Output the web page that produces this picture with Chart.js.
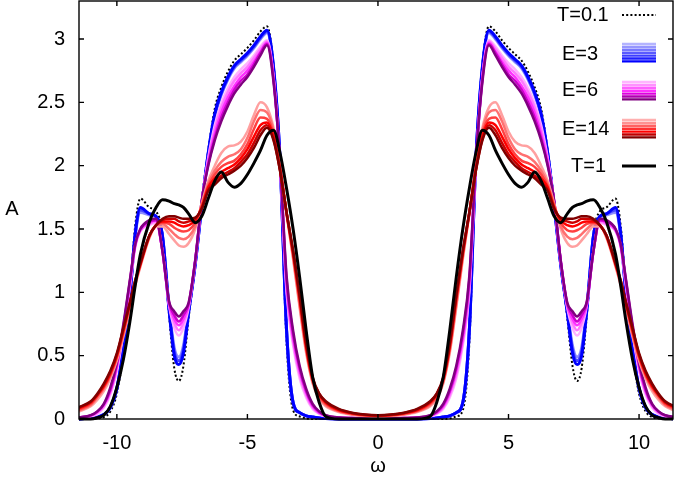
<!DOCTYPE html>
<html><head><meta charset="utf-8">
<script src="https://cdn.jsdelivr.net/npm/chart.js@4/dist/chart.umd.min.js"></script>
<style>html,body{margin:0;padding:0;background:#fff}#wrap{width:675px;height:478px;position:relative}</style>
</head><body><div id="wrap"><canvas id="c"></canvas></div>
<script>
// frequency grid (positive half; the spectra are symmetric in omega)
const omegaPos = [0,0.5,1,1.5,2,2.25,2.5,2.75,3,3.25,3.5,3.75,4,4.25,4.5,4.75,5,5.25,5.5,5.75,6,6.25,6.5,6.75,7,7.25,7.45,7.625,7.8,8,8.25,8.5,8.75,9.1,9.3,9.5,9.75,10,10.25,10.5,10.75,11,11.5];
const xTicks = [-10,-5,0,5,10];
const yTicks = [0,0.5,1,1.5,2,2.5,3];
const legendLabels = ['T=0.1','E=3','E=6','E=14','T=1'];

// T=0.1 (dotted)
const tLow = [0,0,0,0,0,0,0,0.005,0.02,0.07,0.6,2.05,2.8,3.1,3.06,2.99,2.93,2.88,2.83,2.74,2.62,2.45,2.12,1.72,1.22,0.8,0.42,0.3,0.4,0.82,1.46,1.64,1.67,1.74,1.52,1.0,0.52,0.2,0.06,0.015,0.005,0,0];
// E=3 (blue family)
const e3a = [0,0,0,0,0.003,0.008,0.015,0.025,0.05,0.13,0.7,2.04,2.76,3.05,3.0,2.93,2.87,2.82,2.77,2.68,2.56,2.39,2.09,1.68,1.22,0.86,0.58,0.49,0.56,0.88,1.44,1.59,1.61,1.63,1.44,0.97,0.56,0.24,0.09,0.035,0.015,0.007,0];
const e3b = [0,0,0,0,0.003,0.008,0.015,0.025,0.05,0.13,0.7,2.05,2.77,3.06,3.01,2.94,2.88,2.83,2.78,2.69,2.57,2.4,2.1,1.68,1.22,0.85,0.55,0.46,0.53,0.87,1.44,1.6,1.62,1.65,1.45,0.98,0.56,0.24,0.09,0.035,0.015,0.007,0];
const e3c = [0,0,0,0,0.003,0.008,0.015,0.025,0.05,0.13,0.7,2.05,2.78,3.07,3.02,2.95,2.89,2.84,2.79,2.70,2.58,2.41,2.1,1.68,1.22,0.84,0.52,0.43,0.5,0.86,1.44,1.6,1.62,1.67,1.46,0.98,0.56,0.24,0.09,0.035,0.015,0.007,0];
// E=6 (pink / purple family)
const e6a = [0.003,0.004,0.005,0.008,0.02,0.04,0.08,0.17,0.32,0.58,1.0,2.0,2.7,2.99,2.94,2.87,2.81,2.76,2.7,2.61,2.49,2.32,2.06,1.7,1.24,0.88,0.72,0.66,0.72,0.9,1.32,1.55,1.53,1.48,1.35,1.05,0.68,0.38,0.19,0.09,0.04,0.02,0.008];
const e6b = [0.004,0.005,0.006,0.009,0.023,0.045,0.09,0.19,0.35,0.61,1.03,2.01,2.7,2.98,2.92,2.85,2.78,2.73,2.67,2.58,2.46,2.29,2.05,1.71,1.24,0.89,0.76,0.7,0.76,0.9,1.32,1.56,1.54,1.49,1.36,1.06,0.7,0.4,0.21,0.1,0.05,0.025,0.009];
const e6c = [0.004,0.005,0.007,0.01,0.025,0.05,0.1,0.21,0.38,0.64,1.07,2.02,2.69,2.97,2.9,2.82,2.75,2.7,2.63,2.54,2.42,2.25,2.03,1.71,1.25,0.9,0.79,0.74,0.79,0.91,1.32,1.57,1.55,1.49,1.37,1.08,0.72,0.42,0.22,0.11,0.055,0.027,0.01];
const e6d = [0.005,0.006,0.008,0.011,0.028,0.055,0.11,0.22,0.4,0.67,1.1,2.03,2.68,2.96,2.89,2.8,2.72,2.67,2.6,2.5,2.38,2.22,2.01,1.72,1.25,0.91,0.82,0.77,0.82,0.92,1.32,1.57,1.56,1.5,1.37,1.09,0.73,0.43,0.23,0.115,0.058,0.028,0.011];
const e6e = [0.005,0.006,0.008,0.012,0.03,0.06,0.12,0.24,0.42,0.7,1.13,2.04,2.66,2.95,2.87,2.78,2.7,2.64,2.57,2.47,2.35,2.2,2.0,1.72,1.25,0.92,0.85,0.81,0.85,0.93,1.32,1.58,1.57,1.5,1.38,1.1,0.75,0.45,0.25,0.12,0.06,0.03,0.012];
// E=14 (red family)
const e14a = [0.02,0.024,0.034,0.055,0.1,0.16,0.28,0.52,0.88,1.26,1.62,2.0,2.3,2.46,2.5,2.4,2.27,2.19,2.16,2.15,2.1,2.0,1.88,1.7,1.5,1.39,1.36,1.37,1.41,1.46,1.52,1.52,1.43,1.2,1.05,0.87,0.65,0.46,0.32,0.22,0.15,0.1,0.055];
const e14b = [0.022,0.027,0.038,0.06,0.11,0.17,0.29,0.54,0.9,1.28,1.62,1.99,2.28,2.42,2.44,2.35,2.22,2.13,2.09,2.07,2.03,1.96,1.86,1.69,1.52,1.44,1.42,1.43,1.46,1.5,1.54,1.53,1.44,1.21,1.06,0.89,0.67,0.48,0.34,0.24,0.17,0.11,0.065];
const e14c = [0.024,0.029,0.042,0.065,0.12,0.18,0.3,0.56,0.93,1.3,1.62,1.98,2.25,2.37,2.38,2.29,2.17,2.09,2.04,2.02,1.99,1.93,1.84,1.68,1.55,1.49,1.48,1.49,1.51,1.54,1.55,1.53,1.44,1.22,1.07,0.9,0.69,0.49,0.35,0.25,0.18,0.12,0.07];
const e14d = [0.026,0.031,0.045,0.07,0.13,0.19,0.31,0.57,0.95,1.31,1.63,1.97,2.23,2.34,2.32,2.23,2.13,2.06,2.01,1.98,1.95,1.9,1.83,1.67,1.57,1.53,1.52,1.53,1.55,1.56,1.56,1.53,1.45,1.22,1.08,0.91,0.7,0.5,0.36,0.26,0.19,0.13,0.08];
const e14e = [0.028,0.033,0.048,0.075,0.135,0.2,0.32,0.59,0.97,1.32,1.63,1.96,2.21,2.32,2.28,2.18,2.09,2.03,1.98,1.95,1.92,1.87,1.81,1.66,1.58,1.56,1.55,1.56,1.58,1.58,1.57,1.53,1.45,1.23,1.09,0.92,0.71,0.51,0.37,0.27,0.19,0.135,0.085];
const e14f = [0.03,0.035,0.05,0.08,0.14,0.2,0.33,0.6,0.98,1.33,1.63,1.96,2.2,2.3,2.24,2.14,2.06,2.0,1.96,1.93,1.9,1.85,1.8,1.66,1.59,1.58,1.58,1.59,1.6,1.6,1.58,1.53,1.45,1.23,1.09,0.92,0.72,0.52,0.38,0.28,0.2,0.14,0.09];
// T=1 (solid black)
const tHigh = [0,0,0,0,0.02,0.13,0.33,0.7,1.12,1.5,1.82,2.1,2.28,2.24,2.12,2.02,1.93,1.86,1.83,1.87,1.95,1.88,1.74,1.6,1.55,1.62,1.67,1.69,1.7,1.72,1.73,1.67,1.56,1.3,1.05,0.77,0.47,0.25,0.1,0.03,0.01,0,0];

function mirror(vals){
  const pts = [];
  for (let i = omegaPos.length - 1; i >= 1; i--) pts.push({x: -omegaPos[i], y: vals[i]});
  for (let i = 0; i < omegaPos.length; i++) pts.push({x: omegaPos[i], y: vals[i]});
  return pts;
}
function ds(vals, color, width, dash){
  return {data: mirror(vals), borderColor: color, borderWidth: width, borderDash: dash || [],
    pointRadius: 0, cubicInterpolationMode: 'monotone', fill: false,
    clip: {left: 0, right: 0, top: 0, bottom: 4}};
}
// bottom-to-top drawing order
const layers = [
  ds(tLow, '#000000', 2, [2, 2.2]),
  ds(e3a, '#8c8cff', 3), ds(e3b, '#4646ff', 3), ds(e3c, '#0000ff', 3),
  ds(e6a, '#ffb0ff', 2.5), ds(e6b, '#ff78ff', 2.5), ds(e6c, '#ff30ff', 2.5), ds(e6d, '#cc00cc', 2.5), ds(e6e, '#800080', 2.5),
  ds(e14a, '#ffa0a0', 2.5), ds(e14b, '#ff7070', 2.5), ds(e14c, '#ff4040', 2.5), ds(e14d, '#ff0000', 2.5), ds(e14e, '#cc0000', 2.5), ds(e14f, '#800000', 2.5),
  ds(tHigh, '#000000', 3)
];
const datasets = layers.slice().reverse();

const legendSwatch = {
  blue: ['#b4b4ff','#9696ff','#7878ff','#5a5aff','#3c3cff','#1e1eff','#0000ff'],
  purple: ['#ffb4ff','#ff90ff','#ff60ff','#ff30ff','#e000e0','#b000b0','#800080'],
  red: ['#ffb0b0','#ff9090','#ff6060','#ff3030','#ff0000','#c00000','#800000']
};

const decor = {
  id: 'decor',
  afterDatasetsDraw(chart){
    const {ctx, chartArea: a, scales} = chart;
    const x = scales.x, y = scales.y;
    ctx.save();
    ctx.strokeStyle = '#000'; ctx.lineWidth = 1.4; ctx.setLineDash([]);
    ctx.strokeRect(a.left, a.top, a.right - a.left, a.bottom - a.top);
    const L = 5;
    ctx.beginPath();
    xTicks.forEach(v => { const p = x.getPixelForValue(v);
      ctx.moveTo(p, a.bottom); ctx.lineTo(p, a.bottom - L);
      ctx.moveTo(p, a.top); ctx.lineTo(p, a.top + L); });
    yTicks.forEach(v => { const p = y.getPixelForValue(v);
      ctx.moveTo(a.left, p); ctx.lineTo(a.left + L, p);
      ctx.moveTo(a.right, p); ctx.lineTo(a.right - L, p); });
    ctx.stroke();
    ctx.fillStyle = '#000';
    ctx.font = "20px 'Liberation Sans', Arial, sans-serif";
    ctx.textAlign = 'center'; ctx.textBaseline = 'middle';
    ctx.fillText('A', 12, 209);
    ctx.fillText('ω', 378, 466);
    // legend
    ctx.textAlign = 'left';
    const tx = [557, 562, 562, 562, 571];
    const ty = [15, 54, 90.5, 129.5, 166];
    legendLabels.forEach((t, i) => ctx.fillText(t, tx[i], ty[i]));
    const x0 = 622, x1 = 656;
    ctx.lineWidth = 2; ctx.setLineDash([2, 2.2]);
    ctx.beginPath(); ctx.moveTo(x0, 15); ctx.lineTo(x1, 15); ctx.stroke();
    ctx.setLineDash([]);
    const groups = [[legendSwatch.blue, 44], [legendSwatch.purple, 82], [legendSwatch.red, 120]];
    groups.forEach(([cols, y0]) => {
      cols.forEach((c, k) => { ctx.strokeStyle = c; ctx.lineWidth = 2.4;
        ctx.beginPath(); ctx.moveTo(x0, y0 + k * 2.9); ctx.lineTo(x1, y0 + k * 2.9); ctx.stroke(); });
    });
    ctx.strokeStyle = '#000'; ctx.lineWidth = 3;
    ctx.beginPath(); ctx.moveTo(x0, 166); ctx.lineTo(x1, 166); ctx.stroke();
    ctx.restore();
  }
};

function fixPad(s){ s.paddingLeft = 0; s.paddingRight = 0; s.paddingTop = 0; s.paddingBottom = 0; }
const tickFont = {family: "'Liberation Sans', Arial, sans-serif", size: 20};
new Chart(document.getElementById('c'), {
  type: 'line',
  data: {datasets},
  options: {
    responsive: true, maintainAspectRatio: false, animation: false,
    layout: {padding: {top: 1, right: 2, left: 0, bottom: 0}},
    plugins: {legend: {display: false}, tooltip: {enabled: false}},
    scales: {
      x: {type: 'linear', min: -11.45, max: 11.3,
        grid: {display: false, drawTicks: false}, border: {display: false},
        afterBuildTicks: s => { s.ticks = xTicks.map(v => ({value: v})); },
        afterFit: s => { s.height = 59; fixPad(s); },
        ticks: {font: tickFont, color: '#000', padding: 12, maxRotation: 0, callback: v => String(v)}},
      y: {type: 'linear', min: 0, max: 3.3,
        grid: {display: false, drawTicks: false}, border: {display: false},
        afterBuildTicks: s => { s.ticks = yTicks.map(v => ({value: v})); },
        afterFit: s => { s.width = 79; fixPad(s); },
        ticks: {font: tickFont, color: '#000', padding: 14, callback: v => String(v)}}
    }
  },
  plugins: [decor]
});
</script></body></html>
